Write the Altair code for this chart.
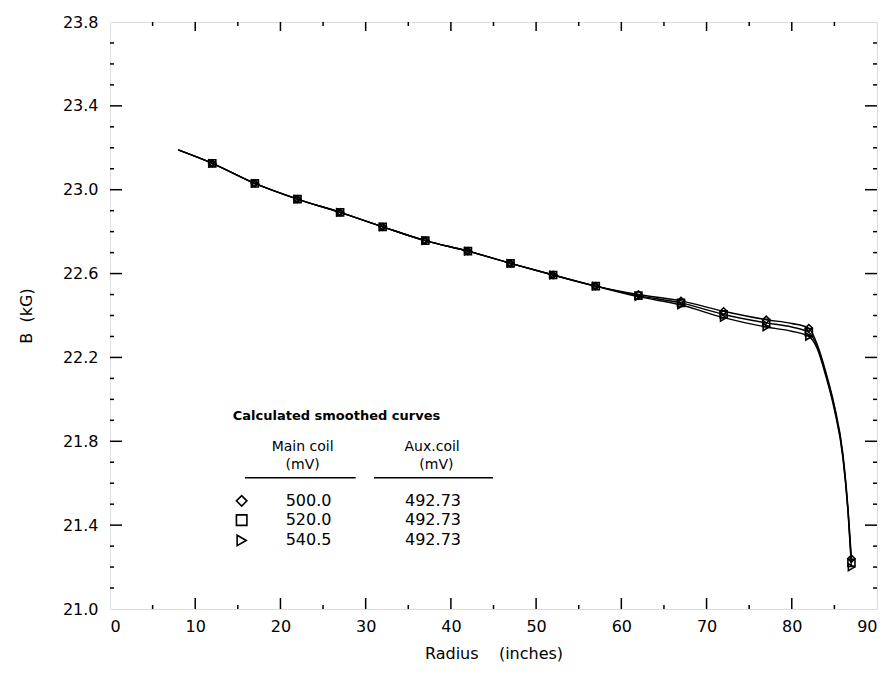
import altair as alt
import pandas as pd

# ---------------- data ----------------
series_names = ["500.0", "520.0", "540.5"]
series_shapes = ["diamond", "square", "triangle-right"]

# measured points (markers) every 5 inches
marker_radius = [12, 17, 22, 27, 32, 37, 42, 47, 52, 57, 62, 67, 72, 77, 82, 87]
marker_b_500 = [23.126, 23.03, 22.955, 22.892, 22.823, 22.757, 22.707, 22.649,
                22.593, 22.54, 22.50, 22.47, 22.42, 22.38, 22.34, 21.24]
marker_b_520 = [23.126, 23.03, 22.955, 22.892, 22.823, 22.757, 22.707, 22.649,
                22.593, 22.54, 22.495, 22.46, 22.405, 22.365, 22.32, 21.22]
marker_b_540 = [23.126, 23.03, 22.955, 22.892, 22.823, 22.757, 22.707, 22.649,
                22.593, 22.54, 22.49, 22.45, 22.39, 22.345, 22.30, 21.20]

# smoothed curves
curve_radius = [8, 12, 17, 22, 27, 32, 37, 42, 47, 52, 57, 62, 67, 72, 77,
                80, 82, 83, 84, 85, 86, 86.6, 87]
curve_b_500 = [23.19, 23.126, 23.03, 22.955, 22.892, 22.823, 22.757, 22.707, 22.649,
               22.593, 22.54, 22.50, 22.47, 22.42, 22.38,
               22.362, 22.34, 22.26, 22.13, 21.97, 21.74, 21.48, 21.24]
curve_b_520 = [23.19, 23.126, 23.03, 22.955, 22.892, 22.823, 22.757, 22.707, 22.649,
               22.593, 22.54, 22.495, 22.46, 22.405, 22.365,
               22.345, 22.32, 22.25, 22.12, 21.96, 21.73, 21.47, 21.22]
curve_b_540 = [23.19, 23.126, 23.03, 22.955, 22.892, 22.823, 22.757, 22.707, 22.649,
               22.593, 22.54, 22.49, 22.45, 22.39, 22.345,
               22.325, 22.30, 22.24, 22.11, 21.95, 21.72, 21.46, 21.20]

x_labels = [0, 10, 20, 30, 40, 50, 60, 70, 80, 90]
y_labels = [21.0, 21.4, 21.8, 22.2, 22.6, 23.0, 23.4, 23.8]
x_major_ticks = [10, 20, 30, 40, 50, 60, 70, 80]
x_minor_ticks = [5, 15, 25, 35, 45, 55, 65, 75, 85]
y_major_ticks = [21.4, 21.8, 22.2, 22.6, 23.0, 23.4]
y_minor_ticks = [21.1, 21.2, 21.3, 21.5, 21.6, 21.7, 21.9, 22.0, 22.1, 22.3, 22.4, 22.5,
                 22.7, 22.8, 22.9, 23.1, 23.2, 23.3, 23.5, 23.6, 23.7]

# key (drawn inside the plot, data coordinates)
key_title = "Calculated smoothed curves"
key_headers = ["Main coil", "(mV)", "Aux.coil", "(mV)"]
key_header_x = [22.6, 22.6, 37.8, 38.3]
key_header_y = [21.774, 21.687, 21.774, 21.687]
key_main = ["500.0", "520.0", "540.5"]
key_aux = ["492.73", "492.73", "492.73"]
key_row_y = [21.516, 21.424, 21.327]

FONT = "DejaVu Sans"
W, H = 767, 587

xscale = alt.Scale(domain=[0, 90], nice=False, zero=False)
yscale = alt.Scale(domain=[21.0, 23.8], nice=False, zero=False)
xaxis = alt.Axis(values=x_labels, format="d", ticks=False, domain=False, grid=False,
                 labelFontSize=16, labelPadding=9, labelColor="black", labelFont=FONT,
                 title="Radius\u00a0\u00a0\u00a0\u00a0(inches)", titleFont=FONT, titleFontSize=16,
                 titleFontWeight="normal", titleColor="black", titleY=44,
                 titleBaseline="middle")
yaxis = alt.Axis(values=y_labels, format=".1f", ticks=False, domain=False, grid=False,
                 labelFontSize=16, labelPadding=12, labelColor="black", labelFont=FONT,
                 title="B\u00a0\u00a0(kG)", titleFont=FONT, titleFontSize=16,
                 titleFontWeight="normal", titleColor="black", titleX=-84,
                 titleY=H / 2, titleAngle=270, titleAlign="center", titleBaseline="middle")


def X(f):
    return alt.X(f + ":Q", scale=xscale, axis=xaxis)


def Y(f):
    return alt.Y(f + ":Q", scale=yscale, axis=yaxis)


curves = pd.concat([
    pd.DataFrame({"r": curve_radius, "b": vals, "series": name})
    for name, vals in zip(series_names, [curve_b_500, curve_b_520, curve_b_540])
])
markers = pd.concat([
    pd.DataFrame({"r": marker_radius, "b": vals, "series": name})
    for name, vals in zip(series_names, [marker_b_500, marker_b_520, marker_b_540])
])

shape_scale = alt.Scale(domain=series_names, range=series_shapes)

lines = alt.Chart(curves).mark_line(color="black", strokeWidth=1.4, interpolate="monotone").encode(
    x=X("r"), y=Y("b"), detail="series:N")

points = alt.Chart(markers).mark_point(filled=False, color="black", size=50, strokeWidth=1.6, opacity=1).encode(
    x=X("r"), y=Y("b"), shape=alt.Shape("series:N", scale=shape_scale, legend=None))

# inward ticks on all four sides
def yticks(vals, x0, x1):
    return alt.Chart(pd.DataFrame({"v": vals})).mark_rule(color="black", strokeWidth=1.5).encode(
        y=Y("v"), x=alt.value(x0), x2=alt.value(x1))


def xticks(vals, y0, y1):
    return alt.Chart(pd.DataFrame({"v": vals})).mark_rule(color="black", strokeWidth=1.5).encode(
        x=X("v"), y=alt.value(y0), y2=alt.value(y1))


tick_layers = [
    yticks(y_major_ticks, 0, 12), yticks(y_minor_ticks, 0, 4),
    yticks(y_major_ticks, W, W - 12), yticks(y_minor_ticks, W, W - 4),
    xticks(x_major_ticks, H, H - 11), xticks(x_minor_ticks, H, H - 4),
    xticks(x_major_ticks, 0, 9), xticks(x_minor_ticks, 0, 4),
]

# key
key_title_layer = alt.Chart(pd.DataFrame({"x": [14.4], "y": [21.921], "t": [key_title]})).mark_text(
    align="left", baseline="middle", font=FONT, fontSize=13, fontWeight="bold", color="black").encode(
    x=X("x"), y=Y("y"), text="t:N")

key_head_layer = alt.Chart(pd.DataFrame({"x": key_header_x, "y": key_header_y, "t": key_headers})).mark_text(
    align="center", baseline="middle", font=FONT, fontSize=14, color="black").encode(
    x=X("x"), y=Y("y"), text="t:N")

key_lines = alt.Chart(pd.DataFrame({"x": [15.84, 30.98], "x2": [28.83, 44.94], "y": [21.626, 21.626]})).mark_rule(
    color="black", strokeWidth=1.5).encode(x=X("x"), x2="x2:Q", y=Y("y"))

key_df = pd.DataFrame({"series": series_names, "y": key_row_y, "main": key_main, "aux": key_aux,
                       "xm": [15.45] * 3, "xa": [23.3] * 3, "xb": [37.9] * 3})

key_syms = alt.Chart(key_df).mark_point(filled=False, color="black", size=110, strokeWidth=1.6, opacity=1).encode(
    x=X("xm"), y=Y("y"), shape=alt.Shape("series:N", scale=shape_scale, legend=None))

key_main_txt = alt.Chart(key_df).mark_text(align="center", baseline="middle", font=FONT, fontSize=16,
                                           color="black").encode(x=X("xa"), y=Y("y"), text="main:N")
key_aux_txt = alt.Chart(key_df).mark_text(align="center", baseline="middle", font=FONT, fontSize=16,
                                          color="black").encode(x=X("xb"), y=Y("y"), text="aux:N")

chart = alt.layer(
    *tick_layers, lines, points, key_title_layer, key_head_layer, key_lines, key_syms, key_main_txt, key_aux_txt
).properties(
    width=W, height=H,
    padding={"left": 102, "top": 14, "right": 5, "bottom": 62},
    autosize=alt.AutoSizeParams(type="none"),
).configure_view(
    stroke="black", strokeWidth=1.5
).configure(background="white")

chart.save("out.html", embed_options={"renderer": "svg", "actions": False})
